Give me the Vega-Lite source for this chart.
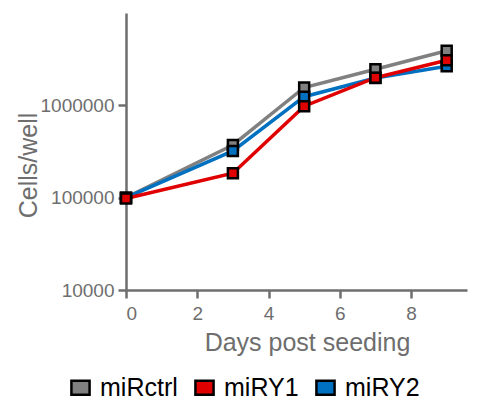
{
  "$schema": "https://vega.github.io/schema/vega-lite/v6.json",
  "autosize": "none",
  "width": 341,
  "height": 277,
  "padding": {"left": 126, "top": 13, "right": 10, "bottom": 112},
  "background": "white",
  "config": {
    "view": {"stroke": null},
    "font": "Liberation Sans",
    "axis": {
      "grid": false,
      "domainColor": "#6e6e6e",
      "domainWidth": 2.5,
      "tickColor": "#6e6e6e",
      "tickWidth": 2.5,
      "tickSize": 8,
      "labelColor": "#6e6e6e",
      "labelFontSize": 19,
      "labelFont": "Liberation Sans",
      "titleColor": "#6e6e6e",
      "titleFont": "Liberation Sans",
      "titleFontWeight": "normal",
      "titleFontSize": 25
    },
    "legend": {
      "orient": "none",
      "legendX": -58,
      "legendY": 362,
      "direction": "horizontal",
      "labelFontSize": 25,
      "labelFont": "Liberation Sans",
      "labelColor": "#000000",
      "symbolType": "M-1,-0.78H1V0.78H-1Z",
      "symbolSize": 330,
      "symbolStrokeColor": "#000000",
      "symbolStrokeWidth": 2.5,
      "symbolOpacity": 1,
      "columnPadding": 12,
      "labelOffset": 7
    }
  },
  "data": {
    "values": [
      {"day": 0, "group": "miRctrl", "cells": 100000},
      {"day": 3, "group": "miRctrl", "cells": 372000},
      {"day": 5, "group": "miRctrl", "cells": 1560000},
      {"day": 7, "group": "miRctrl", "cells": 2460000},
      {"day": 9, "group": "miRctrl", "cells": 3900000},
      {"day": 0, "group": "miRY2", "cells": 100000},
      {"day": 3, "group": "miRY2", "cells": 321000},
      {"day": 5, "group": "miRY2", "cells": 1240000},
      {"day": 7, "group": "miRY2", "cells": 1980000},
      {"day": 9, "group": "miRY2", "cells": 2650000},
      {"day": 0, "group": "miRY1", "cells": 98000},
      {"day": 3, "group": "miRY1", "cells": 184000},
      {"day": 5, "group": "miRY1", "cells": 980000},
      {"day": 7, "group": "miRY1", "cells": 1990000},
      {"day": 9, "group": "miRY1", "cells": 3080000}
    ]
  },
  "encoding": {
    "x": {
      "field": "day", "type": "quantitative",
      "scale": {"domain": [0, 9.57], "nice": false},
      "axis": {"values": [0, 2, 4, 6, 8], "title": "Days post seeding", "labelPadding": 6,
               "titleX": 181, "titleY": 52, "titleBaseline": "middle", "titleAnchor": "middle"}
    },
    "y": {
      "field": "cells", "type": "quantitative",
      "scale": {"type": "log", "domain": [10000, 10000000], "nice": false},
      "axis": {"values": [10000, 100000, 1000000], "format": "d", "title": "Cells/well", "labelPadding": 4,
               "titleX": -98, "titleY": 152, "titleBaseline": "middle", "titleAnchor": "middle", "titleAngle": 270}
    }
  },
  "layer": [
    {
      "mark": {"type": "line", "strokeWidth": 3.5},
      "encoding": {
        "stroke": {
          "field": "group", "type": "nominal",
          "scale": {"domain": ["miRY2", "miRY1", "miRctrl"], "range": ["#0070c0", "#e00000", "#808080"]},
          "legend": null
        }
      }
    },
    {
      "mark": {"type": "point", "shape": "square", "filled": true, "size": 100, "stroke": "#000000", "strokeWidth": 2.5, "opacity": 1},
      "encoding": {
        "color": {
          "field": "group", "type": "nominal",
          "scale": {"domain": ["miRctrl", "miRY1", "miRY2"], "range": ["#808080", "#e00000", "#0070c0"]},
          "legend": {"title": null}
        }
      }
    }
  ]
}
